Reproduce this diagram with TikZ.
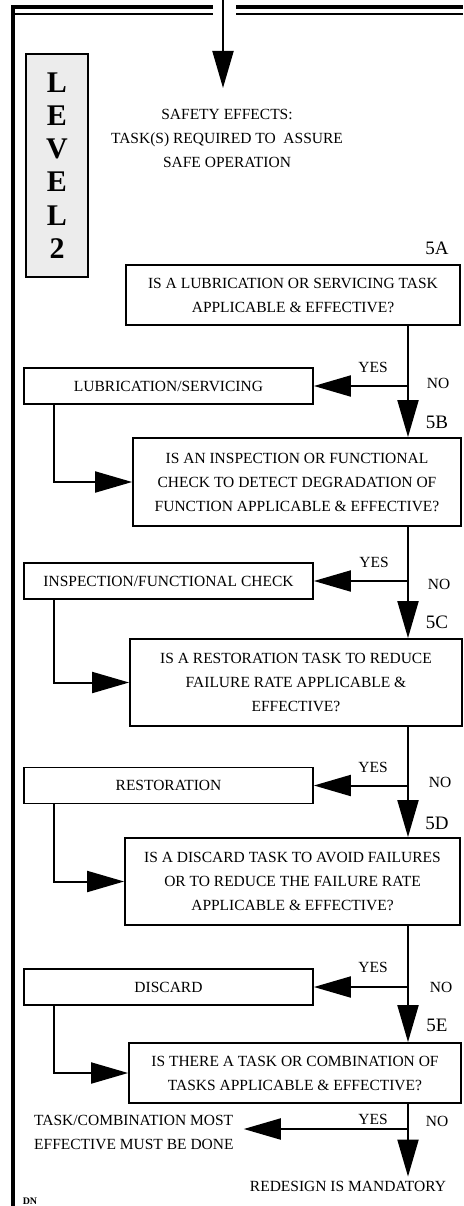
\documentclass[tikz,border=0pt]{standalone}
\usepackage{fontspec}
\setmainfont{Liberation Serif}
\usetikzlibrary{arrows.meta}
\begin{document}
\begin{tikzpicture}[x=1pt,y=-1pt,
  frame/.style={line width=4pt, line join=miter},
  thinframe/.style={line width=1.5pt},
  qbox/.style={draw, line width=1.8pt, inner sep=0pt, align=center,
    font=\fontsize{15.5}{24}\selectfont},
  abox/.style={draw, line width=1.8pt, inner sep=0pt, minimum width=289pt,
    minimum height=36pt, font=\fontsize{15.5}{18}\selectfont},
  flow/.style={line width=2pt, -{Triangle[length=37pt,width=21pt]}},
  txt/.style={font=\fontsize{15.5}{24}\selectfont, inner sep=0pt, align=center},
  tag/.style={font=\fontsize{19}{22}\selectfont, inner sep=0pt}
]
\useasboundingbox (0,0) rectangle (463,1206);

% page frame: heavy left rule and doubled top rule, broken for the entry arrow
\draw[frame] (13,1206) -- (13,7) -- (213,7);
\draw[frame] (236,7) -- (463,7);
\draw[thinframe] (15,14) -- (213,14);
\draw[thinframe] (236,14) -- (463,14);

% level marker
\node[draw, line width=2pt, fill=gray!15, minimum width=62pt, minimum height=223pt,
  inner sep=0pt, align=center, font=\fontsize{30}{33.2}\selectfont\bfseries]
  (level) at (57,165.5) {L\\E\\V\\E\\L\\2};

% heading
\node[txt] (title) at (227,138) {SAFETY EFFECTS:\\TASK(S) REQUIRED TO\ \ ASSURE\\SAFE OPERATION};
\coordinate (entry) at (223,0);
\coordinate (entrytip) at (223,88);
\draw[flow] (entry) -- (entrytip);

% question boxes
\node[qbox, minimum width=334pt, minimum height=60pt] (q5a) at (293,295)
  {IS A LUBRICATION OR SERVICING TASK\\APPLICABLE \& EFFECTIVE?};
\node[qbox, minimum width=328pt, minimum height=88pt] (q5b) at (297,482)
  {IS AN INSPECTION OR FUNCTIONAL\\CHECK TO DETECT DEGRADATION OF\\FUNCTION APPLICABLE \& EFFECTIVE?};
\node[qbox, minimum width=332pt, minimum height=87pt] (q5c) at (296,682.5)
  {IS A RESTORATION TASK TO REDUCE\\FAILURE RATE APPLICABLE \&\\EFFECTIVE?};
\node[qbox, minimum width=335pt, minimum height=87pt] (q5d) at (292.5,881.5)
  {IS A DISCARD TASK TO AVOID FAILURES\\OR TO REDUCE THE FAILURE RATE\\APPLICABLE \& EFFECTIVE?};
\node[qbox, minimum width=332pt, minimum height=60pt] (q5e) at (295,1073)
  {IS THERE A TASK OR COMBINATION OF\\TASKS APPLICABLE \& EFFECTIVE?};

% question numbers
\node[tag] (t5a) at (437,248) {5A};
\node[tag] (t5b) at (437,422) {5B};
\node[tag] (t5c) at (437,622) {5C};
\node[tag] (t5d) at (437,823) {5D};
\node[tag] (t5e) at (437,1025) {5E};

% task boxes
\node[abox] (a1) at (168.5,386) {LUBRICATION/SERVICING};
\node[abox] (a2) at (168.5,581) {INSPECTION/FUNCTIONAL CHECK};
\node[abox] (a3) at (168.5,785.5) {RESTORATION};
\node[abox] (a4) at (168.5,987) {DISCARD};

% answers
\node[txt] (y1) at (373,367) {YES};
\node[txt] (n1) at (438,383) {NO};
\node[txt] (y2) at (374,562) {YES};
\node[txt] (n2) at (439,584) {NO};
\node[txt] (y3) at (373,767) {YES};
\node[txt] (n3) at (440,782) {NO};
\node[txt] (y4) at (373,967) {YES};
\node[txt] (n4) at (441,987) {NO};
\node[txt] (y5) at (373,1119) {YES};
\node[txt] (n5) at (437,1121) {NO};

% outcomes
\node[txt, align=left, anchor=west] (done) at (34,1132.5)
  {TASK/COMBINATION MOST\\EFFECTIVE MUST BE DONE};
\node[txt, inner sep=4pt] (redesign) at (348,1186) {REDESIGN IS MANDATORY};
\node[font=\fontsize{10}{10}\selectfont\bfseries, inner sep=0pt] (dn) at (30,1201.5) {DN};

% routing columns
\coordinate (spine) at (408,0);
\coordinate (feed) at (54,0);

% NO path down the spine
\draw[flow] (q5a.south -| spine) -- (q5b.north -| spine);
\draw[flow] (q5b.south -| spine) -- (q5c.north -| spine);
\draw[flow] (q5c.south -| spine) -- (q5d.north -| spine);
\draw[flow] (q5d.south -| spine) -- (q5e.north -| spine);
\draw[flow] (q5e.south -| spine) -- (spine |- redesign.north);

% YES branches to the tasks
\draw[flow] (spine |- a1.east) -- (a1.east);
\draw[flow] (spine |- a2.east) -- (a2.east);
\draw[flow] (spine |- a3.east) -- (a3.east);
\draw[flow] (spine |- a4.east) -- (a4.east);
\coordinate (j5) at (408,1129);
\draw[flow] (j5) -- ([xshift=10pt]done.east |- j5);

% tasks feed into the next question
\draw[flow] (a1.south -| feed) |- (q5b.west);
\draw[flow] (a2.south -| feed) |- (q5c.west);
\draw[flow] (a3.south -| feed) |- (q5d.west);
\draw[flow] (a4.south -| feed) |- (q5e.west);
\end{tikzpicture}
\end{document}
